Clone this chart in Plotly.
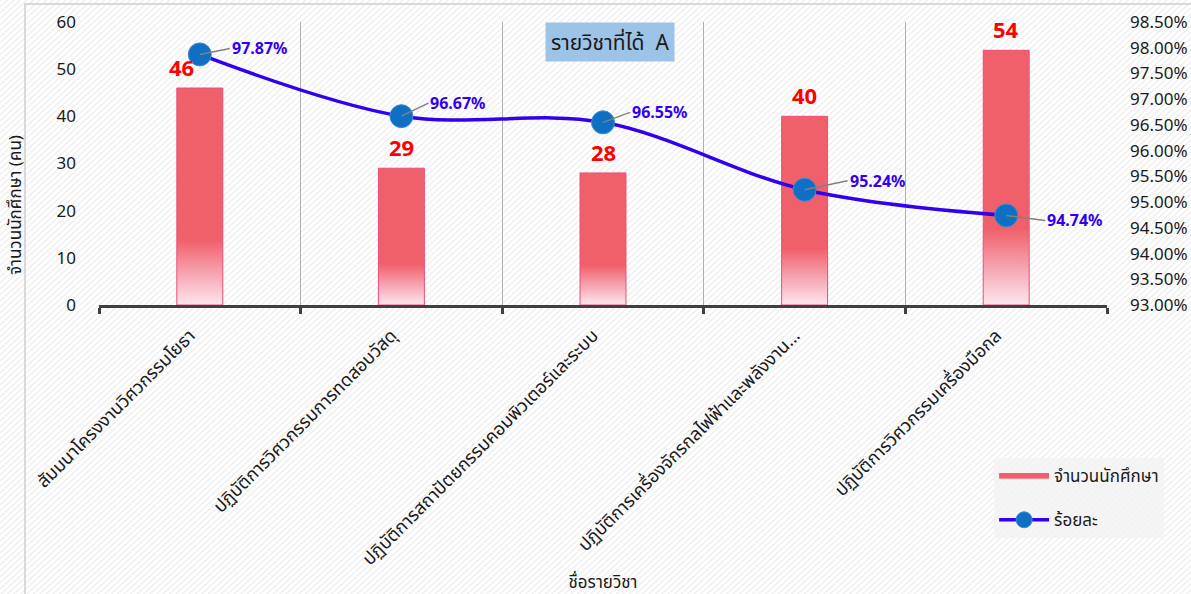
import plotly.graph_objects as go
import base64

categories = [
    "สัมมนาโครงงานวิศวกรรมโยธา",
    "ปฏิบัติการวิศวกรรมการทดสอบวัสดุ",
    "ปฏิบัติการสถาปัตยกรรมคอมพิวเตอร์และระบบ",
    "ปฏิบัติการเครื่องจักรกลไฟฟ้าและพลังงาน...",
    "ปฏิบัติการวิศวกรรมเครื่องมือกล",
]
students = [46, 29, 28, 40, 54]
percent = [97.87, 96.67, 96.55, 95.24, 94.74]
right_ticks = [93.0 + 0.5 * i for i in range(12)]

FONT = "Noto Sans, Noto Sans Thai, sans-serif"
BAR_HALF = 0.114
PAD = "\u00a0" * 3

fig = go.Figure()

# bars drawn as filled shapes with vertical gradient
for i, v in enumerate(students):
    fig.add_trace(go.Scatter(
        x=[i - BAR_HALF, i - BAR_HALF, i + BAR_HALF, i + BAR_HALF, i - BAR_HALF],
        y=[0, v, v, 0, 0],
        mode="lines",
        fill="toself",
        line=dict(color="#e8507a", width=1),
        fillgradient=dict(
            type="vertical",
            colorscale=[[0, "#fde6ee"], [0.12, "#f7b0bd"], [0.3, "#f0606b"], [1, "#f0606b"]],
        ),
        name="จำนวนนักศึกษา",
        legendgroup="bar",
        showlegend=(i == 0),
        hoverinfo="skip",
        xaxis="x", yaxis="y",
    ))

fig.add_trace(go.Scatter(
    x=list(range(len(percent))),
    y=percent,
    mode="lines+markers",
    line=dict(color="#3300ee", width=3.5, shape="spline", smoothing=1.0),
    marker=dict(size=23, color="#0f6fc2", line=dict(color="#3d8ad8", width=1)),
    name="ร้อยละ",
    legendgroup="line",
    yaxis="y2",
))

# red count labels
count_xshift = [-18, 0, 0, 0, 0]
for i, v in enumerate(students):
    fig.add_annotation(
        x=i, y=v, xref="x", yref="y", text=f"<b>{v}</b>", showarrow=False,
        font=dict(color="#ff0000", size=22, family=FONT),
        xshift=count_xshift[i], yshift=21,
    )

# percent labels with leader lines
label_off = [(30, -6), (27, -13), (27, -10), (43, -9), (39, 5)]
for i, p in enumerate(percent):
    ax, ay = label_off[i]
    fig.add_annotation(
        x=i, y=p, xref="x", yref="y2", text=f"<b>{p:.2f}%</b>",
        showarrow=True, arrowhead=0, arrowcolor="#808080", arrowwidth=1.5,
        ax=ax, ay=ay, xanchor="left",
        font=dict(color="#3300ee", size=16, family=FONT),
    )

# title box
fig.add_annotation(
    x=(610 - 99) / 1008, y=1.0, xref="paper", yref="paper",
    xanchor="center", yanchor="top",
    text="รายวิชาที่ได้  A", showarrow=False,
    font=dict(size=21, color="#1a1a1a", family=FONT),
    bgcolor="#9dc3e6", borderpad=5,
)

# y-axis title (placed as rotated text)
fig.add_annotation(
    x=(15 - 99) / 1008, y=(305 - 205) / 283, xref="paper", yref="paper",
    xanchor="center", yanchor="middle", textangle=-90,
    text="จำนวนนักศึกษา (คน)", showarrow=False,
    font=dict(size=17, color="#1a1a1a", family=FONT),
)

# background stripes
svg = ('<svg xmlns="http://www.w3.org/2000/svg" width="1300" height="700">'
       '<defs><pattern id="p" width="5" height="5" patternUnits="userSpaceOnUse" '
       'patternTransform="rotate(45)"><rect width="5" height="5" fill="#ffffff"/>'
       '<rect width="1.4" height="5" fill="#ececec"/></pattern></defs>'
       '<rect width="1300" height="700" fill="url(#p)"/></svg>')
uri = "data:image/svg+xml;base64," + base64.b64encode(svg.encode()).decode()
fig.add_layout_image(
    source=uri, xref="paper", yref="paper",
    x=-99 / 1008, y=1 + 22 / 283, sizex=1191 / 1008, sizey=594 / 283,
    xanchor="left", yanchor="top", sizing="stretch", layer="below",
)

# outer frame
fig.add_shape(type="rect", xref="paper", yref="paper",
              x0=-74 / 1008, y0=-2, x1=1.2, y1=1 + 18 / 283,
              line=dict(color="#d9d9d9", width=2), layer="below")

fig.update_layout(
    width=1191, height=594,
    margin=dict(l=99, r=84, t=22, b=289, autoexpand=False),
    paper_bgcolor="rgba(0,0,0,0)",
    plot_bgcolor="rgba(0,0,0,0)",
    font=dict(family=FONT, color="#1a1a1a"),
    xaxis=dict(
        range=[-0.5, 4.5],
        tickvals=list(range(len(categories))),
        ticktext=[c + PAD for c in categories],
        tickangle=-45,
        tickfont=dict(size=18),
        showgrid=False,
        ticks="",
        showline=True, linecolor="#404040", linewidth=3,
        zeroline=False,
        minor=dict(tickvals=[i - 0.5 for i in range(len(categories) + 1)],
                   showgrid=True, gridcolor="#b0b0b0", gridwidth=1,
                   ticks="outside", ticklen=6, tickcolor="#404040", tickwidth=3),
        title=dict(text="ชื่อรายวิชา", font=dict(size=17), standoff=8),
        automargin=False,
        fixedrange=True,
    ),
    yaxis=dict(
        range=[0, 60], dtick=10, showgrid=False, zeroline=False,
        tickfont=dict(size=17), ticks="", ticklabelstandoff=22,
        automargin=False,
    ),
    yaxis2=dict(
        range=[93, 98.5], overlaying="y", side="right",
        tickvals=right_ticks, ticktext=[f"{t:.2f}%" for t in right_ticks],
        tickfont=dict(size=17), showgrid=False, zeroline=False, ticks="",
        ticklabelstandoff=22, automargin=False,
    ),
    legend=dict(
        x=0.888, y=-0.541, xanchor="left", yanchor="top",
        bgcolor="rgba(242,242,242,0.8)", font=dict(size=17),
        tracegroupgap=19, itemwidth=50,
    ),
    showlegend=True,
)

fig.write_html("out.html", config={"displayModeBar": False},
               post_script="document.body.style.margin='0';")
